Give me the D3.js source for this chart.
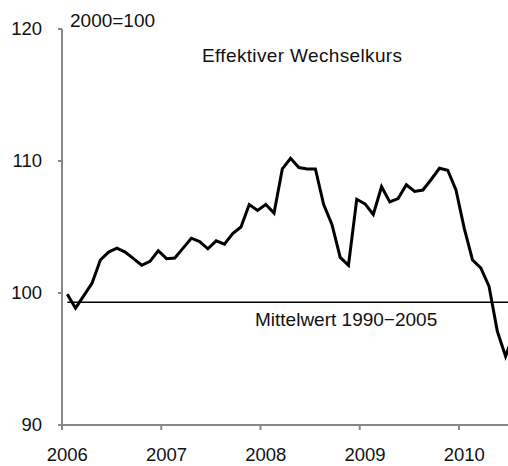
<!DOCTYPE html>
<html>
<head>
<meta charset="utf-8">
<script src="https://cdn.jsdelivr.net/npm/d3@7"></script>
<style>
  body { margin: 0; background: #fff; }
  svg { display: block; font-family: "Liberation Sans", Arial, sans-serif; }
</style>
</head>
<body>
<div id="chart"></div>
<script>
// monthly values, Jan 2006 .. Jul 2010 (2000=100)
var startYear = 2006;
var years = [2006, 2007, 2008, 2009, 2010];
var yTicks = [90, 100, 110, 120];
var values2006 = [99.9, 98.85, 99.8, 100.75, 102.5, 103.1, 103.4, 103.1, 102.6, 102.1, 102.4, 103.2];
var values2007 = [102.6, 102.65, 103.4, 104.15, 103.9, 103.35, 103.95, 103.7, 104.5, 105.0, 106.7, 106.25];
var values2008 = [106.7, 106.05, 109.4, 110.2, 109.5, 109.4, 109.4, 106.7, 105.2, 102.7, 102.1, 107.1];
var values2009 = [106.75, 105.95, 108.05, 106.9, 107.15, 108.2, 107.7, 107.8, 108.6, 109.45, 109.3, 107.8];
var values2010 = [104.9, 102.5, 101.9, 100.5, 97.1, 95.2, 97.0];
var meanValue = 99.3; // Mittelwert 1990-2005

var series = [].concat(values2006, values2007, values2008, values2009, values2010);

(function () {
  var width = 508, height = 466;

  var svg = d3.select("#chart").append("svg")
      .attr("width", width)
      .attr("height", height);

  // x in months since Jan 2006; data sits a bit past the start of each month
  var x = d3.scaleLinear()
      .domain([0, 60])
      .range([62, 62 + 60 * 8.27]);

  var y = d3.scaleLinear()
      .domain([90, 120])
      .range([425, 29]);

  var offset = 0.64;

  // y axis
  svg.append("line")
    .attr("x1", x(0)).attr("x2", x(0))
    .attr("y1", y(120)).attr("y2", y(90))
    .attr("stroke", "#888").attr("stroke-width", 2);

  svg.selectAll(".ytick")
    .data(yTicks)
    .enter().append("line")
      .attr("x1", x(0) - 4).attr("x2", x(0))
      .attr("y1", d => y(d)).attr("y2", d => y(d))
      .attr("stroke", "#888").attr("stroke-width", 2);

  svg.selectAll(".ylabel")
    .data(yTicks)
    .enter().append("text")
      .attr("x", 42)
      .attr("y", d => y(d))
      .attr("dy", "0.35em")
      .attr("text-anchor", "end")
      .attr("font-size", 18.5)
      .attr("fill", "#111")
      .text(d => d);

  // x axis
  svg.append("line")
    .attr("x1", x(0)).attr("x2", width + 10)
    .attr("y1", y(90)).attr("y2", y(90))
    .attr("stroke", "#888").attr("stroke-width", 2);

  svg.selectAll(".xtick")
    .data(years)
    .enter().append("line")
      .attr("x1", d => x((d - startYear) * 12)).attr("x2", d => x((d - startYear) * 12))
      .attr("y1", y(90)).attr("y2", y(90) + 5)
      .attr("stroke", "#888").attr("stroke-width", 2);

  svg.selectAll(".xlabel")
    .data(years)
    .enter().append("text")
      .attr("x", d => x((d - startYear) * 12 + offset))
      .attr("y", 461)
      .attr("text-anchor", "middle")
      .attr("font-size", 18.5)
      .attr("fill", "#111")
      .text(d => d);

  // mean line
  svg.append("line")
    .attr("x1", x(offset)).attr("x2", width + 10)
    .attr("y1", y(meanValue)).attr("y2", y(meanValue))
    .attr("stroke", "#000").attr("stroke-width", 1.3);

  // series
  var line = d3.line()
    .x((d, i) => x(i + offset))
    .y(d => y(d));

  svg.append("path")
    .datum(series)
    .attr("d", line)
    .attr("fill", "none")
    .attr("stroke", "#000")
    .attr("stroke-width", 3)
    .attr("stroke-linejoin", "miter");

  // annotations
  svg.append("text")
    .attr("x", 70).attr("y", 27)
    .attr("font-size", 19)
    .attr("fill", "#111")
    .text("2000=100");

  svg.append("text")
    .attr("x", 202).attr("y", 62)
    .attr("font-size", 19)
    .attr("fill", "#111")
    .attr("textLength", 200)
    .text("Effektiver Wechselkurs");

  svg.append("text")
    .attr("x", 255).attr("y", 326)
    .attr("font-size", 19)
    .attr("fill", "#111")
    .text("Mittelwert 1990\u22122005");
})();
</script>
</body>
</html>
